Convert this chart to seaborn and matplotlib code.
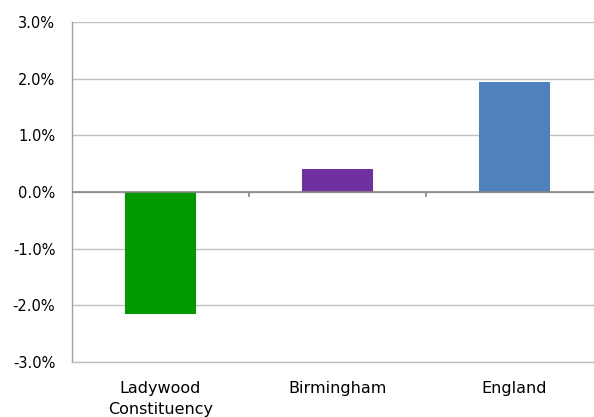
import matplotlib
matplotlib.use("Agg")
import matplotlib.pyplot as plt
import seaborn as sns
import pandas as pd

areas = ["Ladywood\nConstituency", "Birmingham", "England"]
change_pct = [-2.15, 0.40, 1.95]
bar_colors = ["#009900", "#7030A0", "#4F81BD"]
y_ticks = [-3, -2, -1, 0, 1, 2, 3]

df = pd.DataFrame({"area": areas, "change": change_pct})

sns.set_style("white")
plt.rcParams["font.family"] = ["DejaVu Sans"]

fig = plt.figure(figsize=(5.94, 4.17), dpi=100)
ax = fig.add_axes([72 / 594, 1 - 362 / 417, (603 - 72) / 594, (362 - 22) / 417])

sns.barplot(data=df, x="area", y="change", hue="area", palette=bar_colors,
            width=0.4, legend=False, ax=ax, saturation=1, linewidth=0, zorder=3)

ax.set_ylim(-3, 3)
ax.set_xlim(-0.5, 2.5)
ax.set_yticks(y_ticks)
ax.set_yticklabels([f"{v:.1f}%" for v in y_ticks], fontsize=10.5, color="black")
ax.yaxis.grid(True, color="#c0c0c0", linewidth=1.0, zorder=0)
ax.set_axisbelow(True)
ax.set_xlabel("")
ax.set_ylabel("")

for side in ["top", "right"]:
    ax.spines[side].set_visible(False)
ax.spines["bottom"].set_color("#c0c0c0")
ax.spines["bottom"].set_linewidth(1.0)
ax.spines["left"].set_color("#a0a0a0")
ax.spines["left"].set_linewidth(1.0)
ax.tick_params(axis="y", length=5, color="#a0a0a0", width=1.0, pad=7)
ax.tick_params(axis="x", length=0, pad=14, labelsize=11.5, labelcolor="black")
for lbl in ax.get_xticklabels():
    lbl.set_linespacing(1.45)

# zero line with category divider ticks
ax.axhline(0, color="#868686", linewidth=1.2, zorder=4)
ax.vlines([0.5, 1.5], -0.09, 0, color="#868686", linewidth=1.2, zorder=4)

fig.savefig("out.png", dpi=100)
